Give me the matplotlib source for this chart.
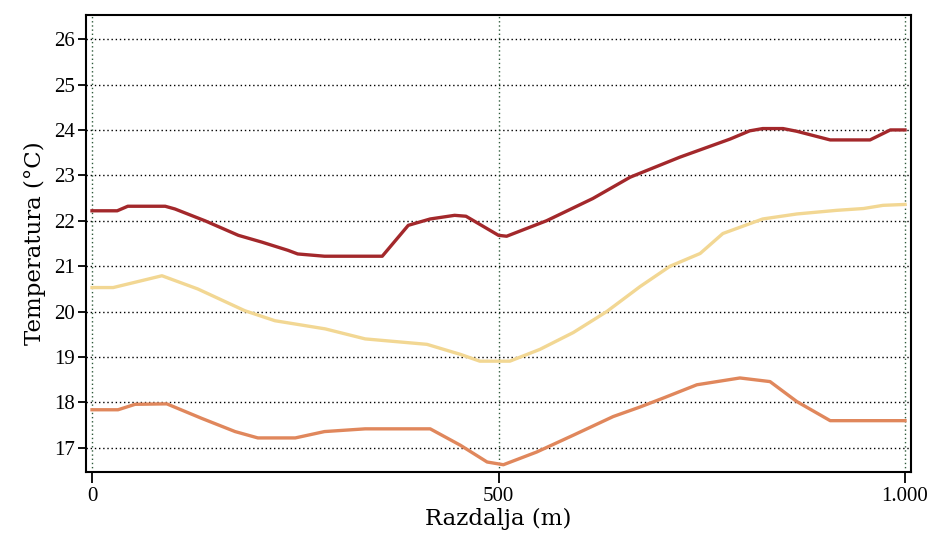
import matplotlib
matplotlib.use("Agg")
import matplotlib.pyplot as plt

# Distances (m) and temperatures (°C)
red_x = [0, 31, 44, 90, 102, 139, 180, 209, 241, 253, 286, 336, 357, 389, 416, 446, 460,
         500, 510, 559, 616, 662, 723, 785, 809, 825, 850, 867, 908, 957, 982, 1000]
red_y = [22.22, 22.22, 22.32, 22.32, 22.26, 22.0, 21.68, 21.53, 21.35, 21.27, 21.22, 21.22, 21.22,
         21.9, 22.04, 22.12, 22.1, 21.68, 21.66, 22.0, 22.49, 22.96, 23.4, 23.8, 23.98, 24.03,
         24.03, 23.97, 23.78, 23.78, 24.0, 24.0]

yel_x = [0, 26, 86, 130, 188, 225, 287, 336, 412, 453, 477, 514, 551, 592, 633, 674, 711, 748,
         776, 825, 867, 916, 949, 973, 1000]
yel_y = [20.53, 20.53, 20.79, 20.5, 20.02, 19.8, 19.62, 19.4, 19.28, 19.06, 18.91, 18.91, 19.17,
         19.54, 20.0, 20.55, 21.0, 21.28, 21.72, 22.04, 22.15, 22.23, 22.27, 22.34, 22.36]

ora_x = [0, 32, 53, 92, 135, 176, 204, 250, 286, 336, 416, 453, 486, 506, 547, 592, 641, 674,
         703, 744, 797, 834, 867, 908, 1000]
ora_y = [17.84, 17.84, 17.96, 17.97, 17.65, 17.36, 17.22, 17.22, 17.36, 17.42, 17.42, 17.06,
         16.69, 16.63, 16.91, 17.28, 17.69, 17.9, 18.1, 18.39, 18.54, 18.46, 18.02, 17.6, 17.6]

x_ticks = [0, 500, 1000]
x_tick_labels = ["0", "500", "1.000"]
y_ticks = [17, 18, 19, 20, 21, 22, 23, 24, 25, 26]

plt.rcParams['font.family'] = ['Liberation Serif', 'DejaVu Serif']

fig = plt.figure(figsize=(9.33, 5.48), dpi=100)
ax = fig.add_axes([86/933, 1-472/548, (911-86)/933, (472-15)/548])

ax.plot(yel_x, yel_y, color='#f2d793', lw=2.4, solid_joinstyle='round')
ax.plot(ora_x, ora_y, color='#e0875c', lw=2.4, solid_joinstyle='round')
ax.plot(red_x, red_y, color='#a3282b', lw=2.4, solid_joinstyle='round')

ax.set_xlim(-7.4, 1007.4)
ax.set_ylim(16.47, 26.53)

ax.set_xticks(x_ticks)
ax.set_xticklabels(x_tick_labels)
ax.set_yticks(y_ticks)

for y in y_ticks:
    ax.axhline(y, color='black', lw=1.0, ls=(0, (1, 2)), zorder=0)
for x in x_ticks:
    ax.axvline(x, color='#2e5a3a', lw=1.0, ls=(0, (1, 2)), zorder=0)

for s in ax.spines.values():
    s.set_linewidth(1.5)
    s.set_color('black')

ax.tick_params(axis='y', direction='out', length=6, width=1.3, labelsize=15, pad=2)
ax.tick_params(axis='x', direction='out', length=8, width=1.3, labelsize=15, pad=3)

ax.set_xlabel("Razdalja (m)", fontsize=16.5, family=['DejaVu Serif'], labelpad=1)
ax.set_ylabel("Temperatura (°C)", fontsize=16.5, family=['DejaVu Serif'], labelpad=6)

fig.savefig("out.png", dpi=100)
